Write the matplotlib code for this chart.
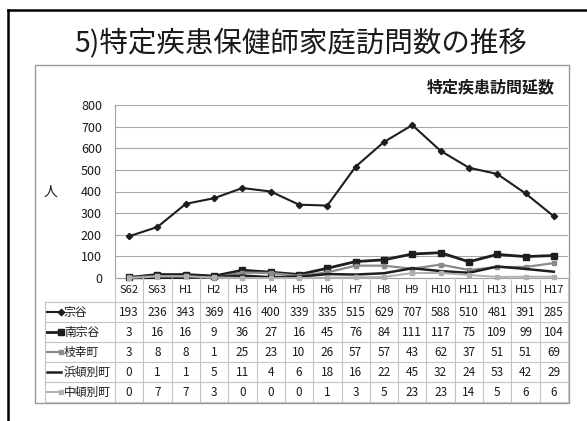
import matplotlib
matplotlib.use('Agg')
import matplotlib.pyplot as plt
from matplotlib.lines import Line2D
from matplotlib.patches import Rectangle

plt.rcParams['font.family'] = ['Noto Sans CJK JP', 'DejaVu Sans']

categories = ['S62', 'S63', 'H1', 'H2', 'H3', 'H4', 'H5', 'H6', 'H7', 'H8',
              'H9', 'H10', 'H11', 'H13', 'H15', 'H17']
soya = [193, 236, 343, 369, 416, 400, 339, 335, 515, 629, 707, 588, 510, 481, 391, 285]
minami_soya = [3, 16, 16, 9, 36, 27, 16, 45, 76, 84, 111, 117, 75, 109, 99, 104]
esashi = [3, 8, 8, 1, 25, 23, 10, 26, 57, 57, 43, 62, 37, 51, 51, 69]
hamatonbetsu = [0, 1, 1, 5, 11, 4, 6, 18, 16, 22, 45, 32, 24, 53, 42, 29]
nakatonbetsu = [0, 7, 7, 3, 0, 0, 0, 1, 3, 5, 23, 23, 14, 5, 6, 6]
series_names = ['宗谷', '南宗谷', '枝幸町', '浜頓別町', '中頓別町']
y_ticks = [0, 100, 200, 300, 400, 500, 600, 700, 800]

series = [soya, minami_soya, esashi, hamatonbetsu, nakatonbetsu]
styles = [
    dict(color='#1e1e1e', lw=1.5, marker='D', ms=3.2),
    dict(color='#1e1e1e', lw=2.0, marker='s', ms=4.5),
    dict(color='#8a8a8a', lw=1.6, marker='s', ms=3.2),
    dict(color='#1e1e1e', lw=1.8, marker=None, ms=0),
    dict(color='#b0b0b0', lw=1.4, marker='s', ms=2.8),
]

W, H = 587, 421
fig = plt.figure(figsize=(W / 100, H / 100), dpi=100)


def fx(px):
    return px / W


def fy(py):
    return 1 - py / H


# outer black frame (left and top only visible)
fig.add_artist(Line2D([fx(8), fx(8)], [fy(10), 0], color='black', lw=1.8))
fig.add_artist(Line2D([fx(8), 1], [fy(10), fy(10)], color='black', lw=1.8))

# chart box
fig.add_artist(Rectangle((fx(35), fy(403)), fx(569) - fx(35), fy(65) - fy(403),
                         transform=fig.transFigure, fill=False,
                         edgecolor='#9a9a9a', lw=1.0))

fig.text(fx(301), fy(43), '5)特定疾患保健師家庭訪問数の推移', ha='center',
         va='center', fontsize=20.5, color='#1a1a1a')
fig.text(fx(555), fy(87), '特定疾患訪問延数', ha='right', va='center',
         fontsize=11.5, fontweight='bold', color='#1a1a1a')
fig.text(fx(50), fy(192), '人', ha='center', va='center', fontsize=10,
         color='#1a1a1a')

x0, x1, ytop, ybot = 115, 568, 105, 278
ax = fig.add_axes([fx(x0), fy(ybot), fx(x1) - fx(x0), fy(ytop) - fy(ybot)])
n = len(categories)
xs = list(range(n))
ax.set_xlim(-0.5, n - 0.5)
ax.set_ylim(0, 800)
ax.set_yticks(y_ticks)
ax.set_yticklabels([str(v) for v in y_ticks], fontsize=9, color='#1a1a1a')
ax.tick_params(axis='y', length=0, pad=9.4)
ax.set_xticks([])
for s in ['top', 'right']:
    ax.spines[s].set_visible(False)
ax.spines['left'].set_color('#a0a0a0')
ax.spines['bottom'].set_color('#a0a0a0')
ax.yaxis.grid(True, color='#a8a8a8', lw=0.8)
ax.set_axisbelow(True)

for vals, st in zip(series, styles):
    ax.plot(xs, vals, color=st['color'], lw=st['lw'], marker=st['marker'],
            ms=st['ms'], markerfacecolor=st['color'],
            markeredgecolor=st['color'], clip_on=False, zorder=3)

# data table
colw = (x1 - x0) / n
row_top = 302
row_h = 20
tbl_left = 45
line_c = '#c4c4c4'
# header labels
for i, c in enumerate(categories):
    fig.text(fx(x0 + (i + 0.5) * colw), fy(290), c, ha='center', va='center',
             fontsize=8, color='#1a1a1a')
# vertical lines
for k in range(n + 1):
    xp = x0 + k * colw
    fig.add_artist(Line2D([fx(xp), fx(xp)], [fy(ybot), fy(row_top + 5 * row_h)],
                          color=line_c, lw=0.8))
fig.add_artist(Line2D([fx(tbl_left), fx(tbl_left)],
                      [fy(row_top), fy(row_top + 5 * row_h)], color=line_c, lw=0.8))
# horizontal lines
for r in range(6):
    yp = row_top + r * row_h
    fig.add_artist(Line2D([fx(tbl_left), fx(x1)], [fy(yp), fy(yp)],
                          color=line_c, lw=0.8))

for r, (name, vals, st) in enumerate(zip(series_names, series, styles)):
    yc = row_top + (r + 0.5) * row_h
    fig.add_artist(Line2D([fx(47), fx(61)], [fy(yc), fy(yc)], color=st['color'],
                          lw=st['lw'], marker=st['marker'],
                          ms=st['ms'], markevery=[1] if st['marker'] else None))
    fig.text(fx(64), fy(yc), name, ha='left', va='center', fontsize=8.5,
             color='#1a1a1a')
    for i, v in enumerate(vals):
        fig.text(fx(x0 + (i + 0.5) * colw), fy(yc), str(v), ha='center',
                 va='center', fontsize=8.5, color='#1a1a1a')

fig.savefig('out.png', dpi=100)
